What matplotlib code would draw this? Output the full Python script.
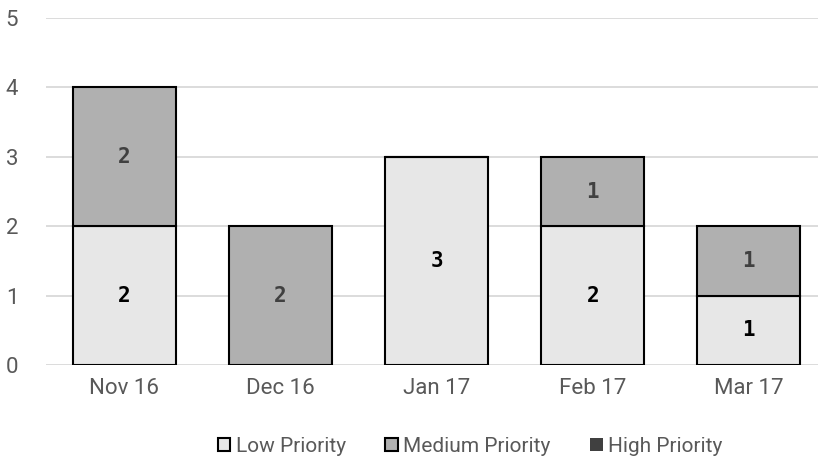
import matplotlib
matplotlib.use("Agg")
import matplotlib.pyplot as plt
import numpy as np

# données
mois = ["Nov 16", "Dec 16", "Jan 17", "Feb 17", "Mar 17"]
low = [2, 0, 3, 2, 1]
medium = [2, 2, 0, 1, 1]
high = [0, 0, 0, 0, 0]
series_names = ["Low Priority", "Medium Priority", "High Priority"]

couleurs = ["#E7E7E7", "#B0B0B0", "#404040"]
gris_texte = "#595959"
police = "Roboto"

fig = plt.figure(figsize=(8.18, 4.66), dpi=100)
ax = fig.add_axes([46 / 818, 1 - 365 / 466, (827 - 46) / 818, (365 - 18) / 466])

x = np.arange(len(mois))
largeur = 0.66
bas = np.zeros(len(mois))
for valeurs, nom, c, col_txt in zip([low, medium, high], series_names, couleurs,
                                    ["black", "#404040", "white"]):
    v = np.array(valeurs, dtype=float)
    edge = "black" if nom != "High Priority" else "none"
    ax.bar(x, v, largeur, bottom=bas, color=c, edgecolor=edge,
           linewidth=1.5, label=nom, zorder=3)
    for xi, b, vi in zip(x, bas, v):
        if vi > 0:
            ax.text(xi, b + vi / 2, f"{int(vi)}", ha="center", va="center",
                    fontsize=15, fontfamily="DejaVu Sans Mono", fontweight="bold",
                    color=col_txt, zorder=4)
    bas += v

ax.set_xlim(-0.5, 4.5)
ax.set_ylim(0, 5)
ax.set_yticks(range(6))
ax.set_xticks(x)
ax.set_xticklabels(mois)
ax.yaxis.grid(True, color="#D9D9D9", linewidth=1.3, zorder=0)
ax.tick_params(length=0, labelsize=16, labelcolor=gris_texte, pad=9)
ax.tick_params(axis="y", pad=29)
for lbl in ax.get_yticklabels():
    lbl.set_horizontalalignment("left")
for lbl in ax.get_xticklabels() + ax.get_yticklabels():
    lbl.set_fontfamily(police)
for s in ax.spines.values():
    s.set_visible(False)

leg = fig.legend(loc="center", bbox_to_anchor=(470 / 818, 1 - 446 / 466), ncol=3,
                 frameon=False, handlelength=0.6, handleheight=0.6,
                 handletextpad=0.25, columnspacing=1.9,
                 prop={"family": police, "size": 15})
for t in leg.get_texts():
    t.set_color(gris_texte)

fig.savefig("out.png", dpi=100)
